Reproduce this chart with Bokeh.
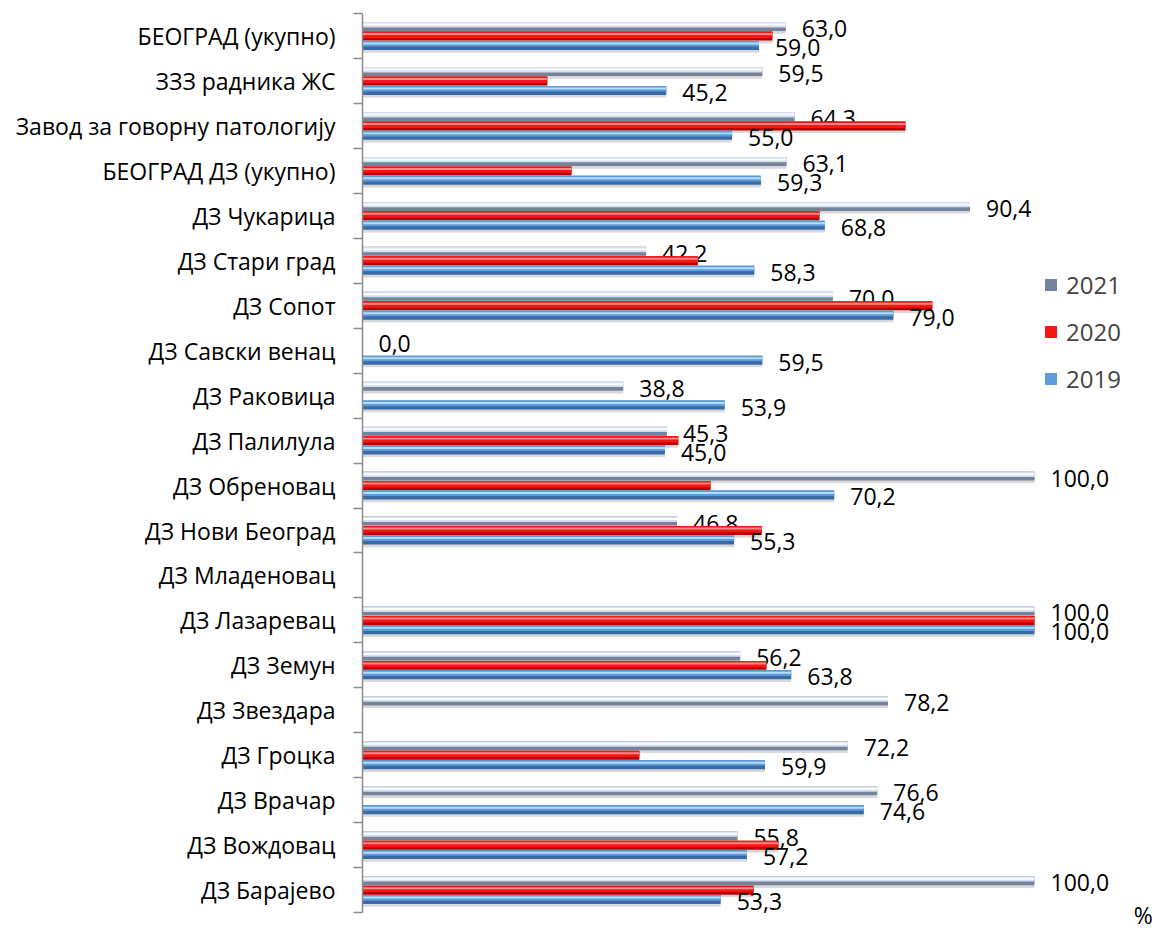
from bokeh.plotting import figure
from bokeh.models import ColumnDataSource, Range1d, FixedTicker, Legend, LegendItem, Label
from bokeh.core.properties import value
from bokeh.embed import file_html
from bokeh.resources import INLINE

# ---------------- data ----------------
categories = ["БЕОГРАД (укупно)", "ЗЗЗ радника ЖС", "Завод за говорну патологију",
              "БЕОГРАД ДЗ (укупно)", "ДЗ Чукарица", "ДЗ Стари град", "ДЗ Сопот",
              "ДЗ Савски венац", "ДЗ Раковица", "ДЗ Палилула", "ДЗ Обреновац",
              "ДЗ Нови Београд", "ДЗ Младеновац", "ДЗ Лазаревац", "ДЗ Земун",
              "ДЗ Звездара", "ДЗ Гроцка", "ДЗ Врачар", "ДЗ Вождовац", "ДЗ Барајево"]
N = None
v2021 = [63.0, 59.5, 64.3, 63.1, 90.4, 42.2, 70.0, 0.0, 38.8, 45.3, 100.0, 46.8, N,
         100.0, 56.2, 78.2, 72.2, 76.6, 55.8, 100.0]
v2020 = [61.0, 27.5, 80.8, 31.1, 68.0, 49.9, 84.8, N, N, 47.0, 51.8, 59.4, N,
         100.0, 60.1, N, 41.2, N, 61.9, 58.2]
v2019 = [59.0, 45.2, 55.0, 59.3, 68.8, 58.3, 79.0, 59.5, 53.9, 45.0, 70.2, 55.3, N,
         100.0, 63.8, N, 59.9, 74.6, 57.2, 53.3]
series_names = ["2021", "2020", "2019"]
label_series = ["2021", "2019"]

FONT = "Open Sans"
n = len(categories)
H = 0.2

p = figure(width=1162, height=931, output_backend="svg", toolbar_location=None,
           x_range=Range1d(0, 119.05), y_range=Range1d(-0.92, 19.79),
           min_border_left=362, min_border_right=0, min_border_top=0, min_border_bottom=0,
           x_axis_location=None)
p.outline_line_color = None
p.xgrid.visible = False
p.ygrid.visible = False
p.background_fill_color = "white"

styles = {
    "2021": dict(offset=0.21, base="#74829a", mid="#d5deed", hi="#fbfcff", midf=0.6),
    "2020": dict(offset=0.0, base="#b80000", mid="#f51616", hi="#ff8a8a", midf=0.72),
    "2019": dict(offset=-0.21, base="#3b69a6", mid="#5d9bd9", hi="#b4ddfb", midf=0.62),
}

legend_refs = {}
for name, vals in zip(series_names, [v2021, v2020, v2019]):
    st = styles[name]
    idx = [i for i, v in enumerate(vals) if v is not None]
    yc = [n - 1 - i + st["offset"] for i in idx]
    xr = [vals[i] for i in idx]
    mf = st["midf"]
    src = ColumnDataSource(dict(
        y=yc,
        right=xr,
        y_sh=[y - 0.06 for y in yc],
        y_mid=[y + (1 - mf) / 2 * H for y in yc],
        y_hi=[y + 0.22 * H for y in yc],
        txt=[f"{v:.1f}".replace(".", ",") for v in xr],
    ))
    p.hbar(y="y_sh", right="right", left=0, height=H, source=src,
           fill_color="#000000", fill_alpha=0.15, line_color=None)
    r_base = p.hbar(y="y", right="right", left=0, height=H, source=src,
                    fill_color=st["base"], line_color=None)
    r_mid = p.hbar(y="y_mid", right="right", left=0, height=mf * H, source=src,
                   fill_color=st["mid"], line_color=None)
    p.hbar(y="y_hi", right="right", left=0, height=0.22 * H, source=src,
           fill_color=st["hi"], line_color=None)
    legend_refs[name] = r_base if name == "2021" else r_mid
    if name in label_series:
        p.text(x="right", y="y", text="txt", source=src, x_offset=16, y_offset=2,
               text_font=value(FONT), text_font_size="23px", text_color="#000000",
               text_baseline="middle", text_align="left")

# category axis
yax = p.yaxis[0]
yax.ticker = FixedTicker(ticks=list(range(n)), minor_ticks=[i - 0.5 for i in range(n + 1)])
yax.major_label_overrides = {n - 1 - i: c for i, c in enumerate(categories)}
yax.major_tick_line_color = None
yax.major_tick_out = 0
yax.major_tick_in = 0
yax.minor_tick_line_color = "#8c8c8c"
yax.minor_tick_out = 9
yax.minor_tick_in = 0
yax.axis_line_color = "#8c8c8c"
yax.axis_line_width = 1.5
yax.minor_tick_line_width = 1.5
yax.bounds = (-0.5, n - 0.5)
yax.major_label_standoff = 18
yax.major_label_text_font = FONT
yax.major_label_text_font_size = "23px"
yax.major_label_text_color = "#000000"

legend = Legend(items=[LegendItem(label=s, renderers=[legend_refs[s]]) for s in series_names],
                location=(681, 536), padding=0, margin=0, spacing=14,
                glyph_width=15, glyph_height=15, label_standoff=8,
                label_text_font=FONT, label_text_font_size="24px",
                border_line_color=None, background_fill_alpha=0)
p.add_layout(legend)

p.add_layout(Label(x=116.2, y=-0.55, text="%", text_font=FONT, text_font_size="23px",
                   text_align="center", text_baseline="middle", text_color="#000000"))

open("out.html", "w").write(file_html(p, INLINE))
